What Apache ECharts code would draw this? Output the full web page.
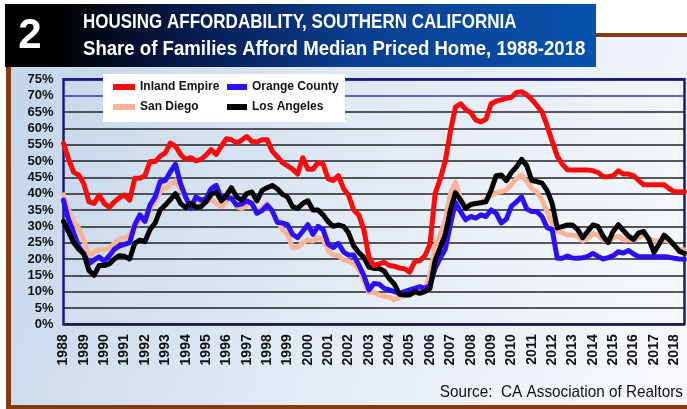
<!DOCTYPE html>
<html>
<head>
<meta charset="utf-8">
<script src="https://cdn.jsdelivr.net/npm/echarts@6/dist/echarts.min.js"></script>
<style>
  html, body { margin: 0; padding: 0; background: #fff; }
  #chart { width: 687px; height: 409px; }
</style>
</head>
<body>
<div id="chart"></div>
<script>
// quarterly readings, 1988 Q1 .. 2018 Q3
const years = []
for (let y = 1988; y <= 2018; y++) years.push(y)
const quarters = []
years.forEach(y => ['Q1', 'Q2', 'Q3', 'Q4'].forEach(q => quarters.push(y + ' ' + q)))
quarters.splice(123)

const inland_empire = [
  55.4, 50.5, 46.5, 45.7, 43, 37.5, 37, 39.5, 37, 35.8, 37.5, 38.8, 39.6, 38, 44.7, 44.7,
  45.5, 49.8, 49.8, 51.5, 52.5, 55.5, 54.5, 52, 50.5, 51, 50, 50.5, 51.8, 53.5, 52, 54.5,
  56.8, 56.5, 55.5, 56.4, 57.5, 56, 55.8, 56.5, 56.5, 53, 51.3, 49.5, 48.5, 47.5, 46, 51,
  47.5, 47.5, 49.5, 49, 44.5, 44, 45.5, 41.6, 39.5, 35, 33.5, 29, 20.5, 18, 18.5, 19,
  18, 17.8, 17.2, 17, 16, 19.2, 19.5, 21, 24.5, 40, 44.5, 50, 59, 66.5, 67.5, 65.8,
  64.8, 62.5, 62, 62.8, 67.5, 68.3, 68.7, 69.2, 69.5, 71, 71.2, 70.3, 68.8, 67, 65, 60.8,
  56, 51.5, 49, 47.3, 47.2, 47.2, 47.2, 47.2, 47, 46.5, 45.2, 45.2, 45.5, 47, 46, 46,
  45.5, 44, 42.7, 42.7, 42.7, 42.7, 42.7, 41.5, 40.6, 40.6, 40.6
]
const orange_county = [
  38, 32, 28, 23.8, 21.5, 18.5, 19.7, 20.6, 19.3, 21, 23, 24, 24.5, 25, 30.4, 33.5,
  31.5, 36.5, 39, 43.7, 44, 46.7, 49, 43, 39, 35.5, 39, 38, 38.5, 41.5, 42.5, 38.6,
  38.8, 38.5, 36.5, 36.8, 37.8, 37, 34, 34.8, 36.5, 34.8, 31.2, 31, 30.5, 27.5, 26.5, 28.5,
  30.5, 27.5, 30, 29, 24.5, 23.5, 24.8, 22.2, 21.2, 21.2, 18.2, 15, 10.5, 12.5, 12.3, 11,
  10.5, 10, 9.5, 10, 10.5, 11, 11.5, 11, 12, 17, 20.3, 23, 30.5, 37.3, 34.5, 32,
  33, 32.5, 33.5, 33, 35, 34, 31, 32.2, 36.2, 37.5, 39, 35.3, 34.5, 34.5, 33, 29.6,
  29, 20.2, 20.2, 20.9, 20.3, 20.2, 20.4, 20.8, 21.7, 20.8, 20, 20.4, 21, 22.2, 21.8, 22.6,
  21.5, 20.7, 20.7, 20.7, 20.7, 20.7, 20.7, 20.5, 20.2, 20, 19.9
]
const san_diego = [
  39.6, 35, 31.4, 29.3, 25.8, 21, 22.2, 22.8, 22.8, 23.3, 24.8, 26.2, 26.3, 27.3, 30.4, 31.4,
  32.2, 35.3, 37.5, 40.6, 41.6, 42.8, 44, 41.3, 38.8, 37, 37, 37, 37.5, 38.3, 37, 36,
  37.5, 39.5, 36, 35.5, 36.5, 37.3, 34, 35.5, 37, 34.5, 32, 29, 27.5, 23.5, 23.6, 25,
  25.8, 25.5, 26.5, 26, 22.5, 21.2, 21, 19.7, 19.3, 18.5, 16.8, 13.5, 9.8, 9.9, 9, 8.6,
  8.3, 7.5, 8.3, 8.8, 9.1, 9.5, 9.8, 10.8, 15, 24, 27.5, 32, 40, 43.5, 38.5, 36,
  36.5, 37, 37.3, 38.4, 39.4, 40.3, 40.6, 41.2, 42.8, 44.7, 45.7, 43.8, 41.5, 40.5, 38, 34.5,
  31, 28.5, 28, 27.3, 27.3, 27, 25.5, 26.3, 27.8, 27.3, 25.8, 25.3, 26.5, 27, 25.8, 25.8,
  25.8, 26.5, 27.5, 26.5, 25.5, 25.5, 25.8, 25.4, 24, 22.8, 22.8
]
const los_angeles = [
  31.5, 28.3, 25, 23, 21.5, 16.5, 15, 18, 18, 18.5, 20, 21, 20.8, 20, 24.8, 25.8,
  25.3, 29, 31, 35, 36.5, 38.2, 40, 37, 35.7, 37, 35.8, 36, 37.5, 39.8, 40.5, 37.8,
  39.5, 41.8, 39, 38, 40, 40.5, 37.8, 41, 41.8, 42.5, 41.5, 39.8, 39, 36, 35.5, 37,
  37.8, 35, 35, 33.5, 31.4, 30, 30.4, 30, 28, 24, 22, 20.5, 17.5, 17.1, 17.1, 16.3,
  14, 12.3, 9.2, 9, 9, 10, 9.5, 10, 11, 19.5, 23.5, 27.5, 35, 40.3, 38, 35.5,
  36.7, 37, 37.2, 37.5, 41, 45.5, 45.7, 44, 46.5, 48.2, 50.5, 48.6, 44, 43.7, 43.2, 41,
  37, 29.5, 29.9, 30.4, 30.4, 29, 26.5, 28.5, 30.4, 30, 27, 25, 28.5, 30.5, 28.7, 27,
  26, 28, 28.4, 26, 22, 24.5, 27.3, 25.9, 24.2, 22.3, 21.7
]

const plain = '"Liberation Sans", Arial, sans-serif'

// split lines 0%..75%; the 70% line is drawn blue, 75% is the frame
const grid_colors = []
for (let i = 0; i < 16; i++) grid_colors.push(i === 14 ? '#3b36a6' : (i === 15 ? '#1c1880' : '#222'))

function line(name, data, color) {
  return {
    name: name,
    type: 'line',
    data: data,
    showSymbol: false,
    symbol: 'none',
    lineStyle: { color: color, width: 5, join: 'round', cap: 'round' },
    itemStyle: { color: color }
  }
}

// condensed look: squeeze text horizontally
function squeezed(x, y, text, font, sx) {
  return {
    type: 'text', z: 10, x: x, y: y, scaleX: sx,
    style: { text: text, fill: '#fff', font: font, verticalAlign: 'middle' }
  }
}

const legend_text = { fontFamily: plain, fontWeight: 'bold', fontSize: 12, color: '#111' }

const chart = echarts.init(document.getElementById('chart'))
chart.setOption({
  animation: false,
  backgroundColor: '#fff',
  graphic: [
    { type: 'rect', z: -20, shape: { x: 6, y: 33, width: 681, height: 376 }, style: { fill: '#863a0e' } },
    {
      type: 'rect', z: -19, shape: { x: 11, y: 37, width: 676, height: 368 },
      style: {
        fill: new echarts.graphic.LinearGradient(0, 0, 1, 0.7, [
          { offset: 0, color: '#c2d5ea' },
          { offset: 0.55, color: '#e3ebf5' },
          { offset: 1, color: '#f6f8fc' }
        ])
      }
    },
    {
      type: 'rect', z: -18, shape: { x: 5, y: 4, width: 591, height: 63 },
      style: {
        fill: new echarts.graphic.LinearGradient(0, 0, 1, 0, [
          { offset: 0, color: '#000' },
          { offset: 0.09, color: '#000' },
          { offset: 0.3, color: '#061a4a' },
          { offset: 0.6, color: '#0a3f90' },
          { offset: 1, color: '#0652ad' }
        ])
      }
    },
    { type: 'text', z: 10, x: 30, y: 36, style: { text: '2', fill: '#fff', font: 'bold 42px ' + plain, align: 'center', verticalAlign: 'middle' } },
    squeezed(83, 22, 'HOUSING AFFORDABILITY, SOUTHERN CALIFORNIA', 'bold 20px ' + plain, 0.85),
    squeezed(83, 49, 'Share of Families Afford Median Priced Home, 1988-2018', 'bold 20px ' + plain, 0.93),
    { type: 'rect', z: 3, shape: { x: 103, y: 74, width: 242, height: 48 }, style: { fill: '#fff' } },
    {
      type: 'text', z: 10, x: 683, y: 392, scaleX: 0.9,
      style: { text: 'Source:  CA Association of Realtors', fill: '#111', font: '17px ' + plain, align: 'right', verticalAlign: 'middle' }
    }
  ],
  legend: [
    {
      data: ['Inland Empire', 'San Diego'],
      orient: 'vertical', left: 113, top: 81, itemGap: 8,
      icon: 'rect', itemWidth: 22, itemHeight: 6,
      textStyle: legend_text,
      padding: 0, selectedMode: false
    },
    {
      data: ['Orange County', 'Los Angeles'],
      orient: 'vertical', left: 227, top: 81, itemGap: 8,
      icon: 'rect', itemWidth: 20, itemHeight: 6,
      textStyle: legend_text,
      padding: 0, selectedMode: false
    }
  ],
  grid: {
    left: 63.5, right: 2.5, top: 79.3, bottom: 84.7,
    show: true, borderColor: '#1c1880', borderWidth: 2.5, backgroundColor: 'transparent'
  },
  xAxis: {
    type: 'category',
    data: quarters,
    boundaryGap: false,
    axisLine: { show: false },
    axisTick: { show: false },
    splitLine: { show: false },
    axisLabel: {
      interval: (idx) => idx % 4 === 0,
      rotate: 90,
      margin: 10,
      formatter: (v) => v.slice(0, 4),
      fontFamily: plain, fontWeight: 'bold', fontSize: 14, color: '#111'
    }
  },
  yAxis: {
    type: 'value',
    min: 0, max: 75, interval: 5,
    axisLine: { show: false },
    axisTick: { show: false },
    splitLine: { lineStyle: { color: grid_colors, width: 1.5 } },
    axisLabel: {
      formatter: '{value}%', margin: 10,
      fontFamily: plain, fontWeight: 'bold', fontSize: 13, color: '#111'
    }
  },
  series: [
    line('San Diego', san_diego, '#f9b396'),
    line('Orange County', orange_county, '#2a10ff'),
    line('Los Angeles', los_angeles, '#000000'),
    line('Inland Empire', inland_empire, '#ff0a0a')
  ]
})
</script>
</body>
</html>
